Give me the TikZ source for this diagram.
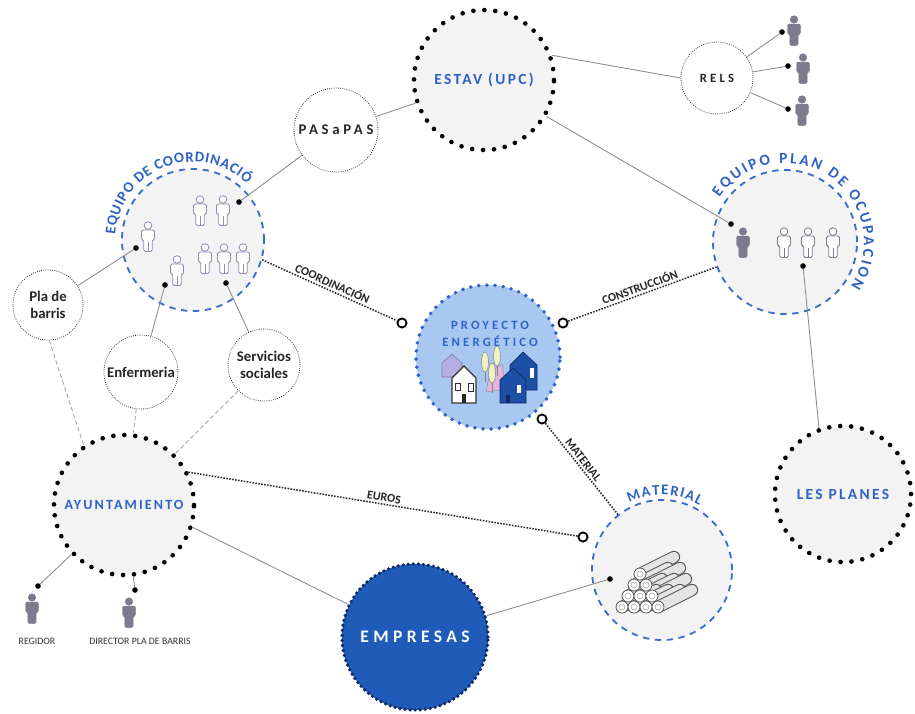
\documentclass[tikz,border=0pt]{standalone}
\usepackage{fontspec}
\setmainfont{Carlito}
\newfontfamily\spaced[LetterSpace=15]{Carlito}
\newfontfamily\spacedm[LetterSpace=25]{Carlito}
\usetikzlibrary{calc,decorations.text}

\definecolor{titleblue}{HTML}{2E62C6}
\definecolor{ringblue}{HTML}{3A6DC8}
\definecolor{firmblue}{HTML}{1F5BB8}
\definecolor{firmedge}{HTML}{0E2A66}
\definecolor{coreblue}{HTML}{A9C8F1}
\definecolor{coredot}{HTML}{2A60C8}
\definecolor{paper}{HTML}{F3F3F3}
\definecolor{wire}{HTML}{8A8A8A}
\definecolor{figgray}{HTML}{7D7A8E}
\definecolor{figline}{HTML}{9888B4}
\definecolor{lilac}{HTML}{B4AEE2}
\definecolor{rose}{HTML}{E3B6DC}
\definecolor{leaf}{HTML}{EEF3C2}
\definecolor{roof}{HTML}{1D4FA6}
\definecolor{logside}{HTML}{E4E4E4}

\tikzset{
  hub/.style={circle,inner sep=0pt,fill=paper,draw=black,line width=3.3pt,
    dash pattern=on 0pt off 7.8pt,line cap=round,text=titleblue,
    font=\spaced\bfseries\fontsize{11}{13}\selectfont},
  group/.style={circle,inner sep=0pt,fill=paper,draw=ringblue,line width=1.3pt,
    dash pattern=on 4.5pt off 4pt},
  core/.style={circle,inner sep=0pt,fill=coreblue,draw=coredot,line width=2.8pt,
    dash pattern=on 0pt off 5.8pt,line cap=round},
  firm/.style={circle,inner sep=0pt,fill=firmblue,draw=firmedge,line width=2.6pt,
    dash pattern=on 0pt off 3.6pt,line cap=round,text=white,
    font=\spacedm\bfseries\fontsize{12.5}{14}\selectfont},
  actor/.style={circle,inner sep=0pt,fill=white,draw=black!85,line width=0.55pt,
    densely dotted,align=center,text=black!85,
    font=\bfseries\fontsize{10.5}{12.5}\selectfont},
  wire/.style={draw=wire,line width=0.6pt},
  faint/.style={draw=wire!80,line width=0.6pt,densely dashed},
  flow/.style={draw=black!85,line width=1.1pt,densely dotted},
  tap/.style={circle,fill=black,inner sep=0pt,minimum size=4pt},
  ring/.style={circle,draw=black,fill=white,line width=1.3pt,inner sep=0pt,minimum size=6.5pt},
  flowlabel/.style={sloped,above,inner sep=1.5pt,text=black!85,
    font=\bfseries\fontsize{8.5}{9}\selectfont},
  caption/.style={text=black!80,font=\fontsize{7}{8}\selectfont},
  arctitle/.style 2 args={decorate,decoration={text along path,text align={fit to path},
    text={|\bfseries\fontsize{#1}{#1}\selectfont\color{titleblue}|#2}}},
  person/.pic={
    \path[pic actions] (0,10.5) circle[radius=3.8];
    \path[pic actions,rounded corners=1pt] (-6.5,6) -- (6.5,6) -- (6.5,-4) -- (4.2,-4)
      -- (4.2,-15.5) -- (-4.2,-15.5) -- (-4.2,-4) -- (-6.5,-4) -- cycle;
    \draw[pic actions] (0,-15.5) -- (0,-6);
  }
}

\begin{document}
\begin{tikzpicture}[x=0.025cm,y=0.025cm]
\useasboundingbox (0,0) rectangle (915,-713);
\fill[white] (0,0) rectangle (915,-713);

% circles
\node[hub,minimum size=3.5cm] (estav) at (484,-80) {ESTAV (UPC)};
\node[actor,minimum size=1.8cm,font=\spacedm\bfseries\fontsize{9}{10}\selectfont] (rels) at (717,-78) {RELS};
\node[actor,minimum size=2.1cm,font=\spacedm\bfseries\fontsize{10.5}{11}\selectfont] (pas) at (336,-130) {PASaPAS};
\node[group,minimum size=3.55cm] (coord) at (193,-240) {};
\node[actor,minimum size=1.75cm] (pla) at (48,-305) {Pla de\\barris};
\node[actor,minimum size=1.85cm] (enf) at (141,-372) {Enfermeria};
\node[actor,minimum size=1.8cm] (serv) at (264,-365) {Servicios\\sociales};
\node[core,minimum size=3.6cm] (proy) at (488,-357) {};
\node[group,minimum size=3.6cm] (ocup) at (785,-242) {};
\node[hub,minimum size=3.5cm,font=\spaced\bfseries\fontsize{10}{12}\selectfont] (ayto) at (124,-505) {AYUNTAMIENTO};
\node[firm,minimum size=3.65cm] (empr) at (415,-637) {EMPRESAS};
\node[group,minimum size=3.5cm] (mat) at (662,-570) {};
\node[hub,minimum size=3.4cm] (planes) at (843,-494) {LES PLANES};

% titles on the dashed rings
\path[arctitle={10.5}{EQUIPO DE COORDINACIÓ}] ($(coord)+(176:78)$) arc[start angle=176,end angle=46,radius=78];
\path[arctitle={11}{EQUIPO PLAN DE OCUPACION}] ($(ocup)+(146:79)$) arc[start angle=146,end angle=-34,radius=79];
\path[arctitle={10.5}{MATERIAL}] ($(mat)+(116:75)$) arc[start angle=116,end angle=60,radius=75];

% energy project: title and houses
\node[align=center,text=titleblue,font=\spacedm\bfseries\fontsize{9}{12}\selectfont] (proytitle) at (490,-334) {PROYECTO\\ENERGÉTICO};
\filldraw[fill=lilac,draw=lilac!70!black,line width=0.4pt] (442,-377) -- (442,-363) -- (452,-354) -- (462,-363) -- (462,-377) -- cycle;
\filldraw[fill=rose,draw=rose!70!black,line width=0.3pt] (486,-392) -- (490,-372) -- (502,-364) -- (506,-389) -- cycle;
\filldraw[fill=white,draw=black!80,line width=0.8pt] (452,-403) -- (452,-378) -- (464,-366) -- (476,-378) -- (476,-403) -- cycle;
\draw[black!80,line width=0.6pt] (455,-383) rectangle (460,-390) (468,-383) rectangle (473,-391);
\fill[black!85] (462,-394) rectangle (466,-403);
\foreach \tx/\ty in {485/-362,497/-356,492/-373}{
  \draw[black!50,line width=0.4pt] (\tx,\ty-8) -- (\tx,\ty-20);
  \filldraw[fill=leaf,draw=black!45,line width=0.4pt] (\tx,\ty) ellipse[x radius=3.5,y radius=10];
}
\filldraw[fill=roof,draw=firmedge,line width=0.5pt] (510,-390) -- (510,-365) -- (523,-352) -- (537,-365) -- (537,-390) -- cycle;
\fill[white] (530,-368) rectangle (534,-378);
\filldraw[fill=roof,draw=firmedge,line width=0.5pt] (500,-403) -- (500,-380) -- (513,-368) -- (526,-380) -- (526,-403) -- cycle;
\fill[white] (517,-385) rectangle (521,-393);
\fill[firmedge] (506,-395) rectangle (510,-403);

% timber stack
\foreach \lx/\ly in {640/-574,634/-585,646/-585,628/-596,640/-596,652/-596,622/-607,634/-607,646/-607,658/-607}{
  \draw[black!65,line width=8.8pt,line cap=round] (\lx,\ly) -- ++(34,17);
  \draw[logside,line width=7.4pt,line cap=round] (\lx,\ly) -- ++(34,17);
}
\foreach \lx/\ly in {640/-574,634/-585,646/-585,628/-596,640/-596,652/-596,622/-607,634/-607,646/-607,658/-607}{
  \filldraw[fill=white,draw=black!70,line width=0.5pt] (\lx,\ly) circle[radius=6];
  \draw[black!35,line width=0.4pt] (\lx,\ly) circle[radius=3];
}

% people
\foreach \px/\py in {148/-236,177/-270,200/-210,223/-210,205/-258,224/-258,243/-258}
  \pic[draw=figline,fill=white,line width=0.6pt] at (\px,\py) {person};
\foreach \px/\py in {794/-30,803/-68,802/-110,743/-242,32/-608,129/-612}
  \pic[draw=figgray,fill=figgray,line width=0.3pt] at (\px,\py) {person};
\foreach \px in {784,808,833}
  \pic[draw=figgray,fill=white,line width=0.6pt] at (\px,-242) {person};
\node[caption] (regidor) at (37,-641) {REGIDOR};
\node[caption] (director) at (140,-641) {DIRECTOR PLA DE BARRIS};

% contact points
\node[tap] (tPas) at (239,-202) {};
\node[tap] (tPla) at (136,-248) {};
\node[tap] (tEnf) at (165,-285) {};
\node[tap] (tServ) at (226,-283) {};
\node[tap] (tEstav) at (731,-224) {};
\node[tap] (tPlanes) at (803,-266) {};
\node[tap] (tFirm) at (610,-579) {};
\node[tap] (tR1) at (782,-32) {};
\node[tap] (tR2) at (788,-66) {};
\node[tap] (tR3) at (788,-109) {};
\node[tap] (tReg) at (38,-586) {};
\node[tap] (tDir) at (135,-590) {};
\node[ring] (ringL) at (402,-323) {};
\node[ring] (ringR) at (563,-323) {};
\node[ring] (ringB) at (542,-419) {};
\node[ring] (ringM) at (583,-537) {};

% plain links
\draw[wire] (estav) -- (pas);
\draw[wire] (estav.20) -- (rels.180);
\draw[wire] (estav) -- (tEstav);
\draw[wire] (rels) -- (tR1);
\draw[wire] (rels) -- (tR2);
\draw[wire] (rels) -- (tR3);
\draw[wire] (pas) -- (tPas);
\draw[wire] (pla) -- (tPla);
\draw[wire] (enf) -- (tEnf);
\draw[wire] (serv) -- (tServ);
\draw[wire] (tPlanes) -- (planes.110);
\draw[faint] (pla.-88) -- (ayto.124);
\draw[faint] (enf) -- (ayto);
\draw[faint] (serv) -- (ayto);
\draw[wire] (ayto.-18) -- (empr.154);
\draw[wire] (empr) -- (tFirm);
\draw[wire] (ayto) -- (tReg);
\draw[wire] (ayto) -- (tDir);

% exchanges
\draw[flow] (coord.-16) -- node[flowlabel]{COORDINACIÓN} (ringL);
\draw[flow] (ringR) -- node[flowlabel]{CONSTRUCCIÓN} (ocup);
\draw[flow] (ringB) -- node[flowlabel,pos=0.45]{MATERIAL} (mat);
\draw[flow] (ayto.27) -- node[flowlabel]{EUROS} (ringM);
\end{tikzpicture}
\end{document}
